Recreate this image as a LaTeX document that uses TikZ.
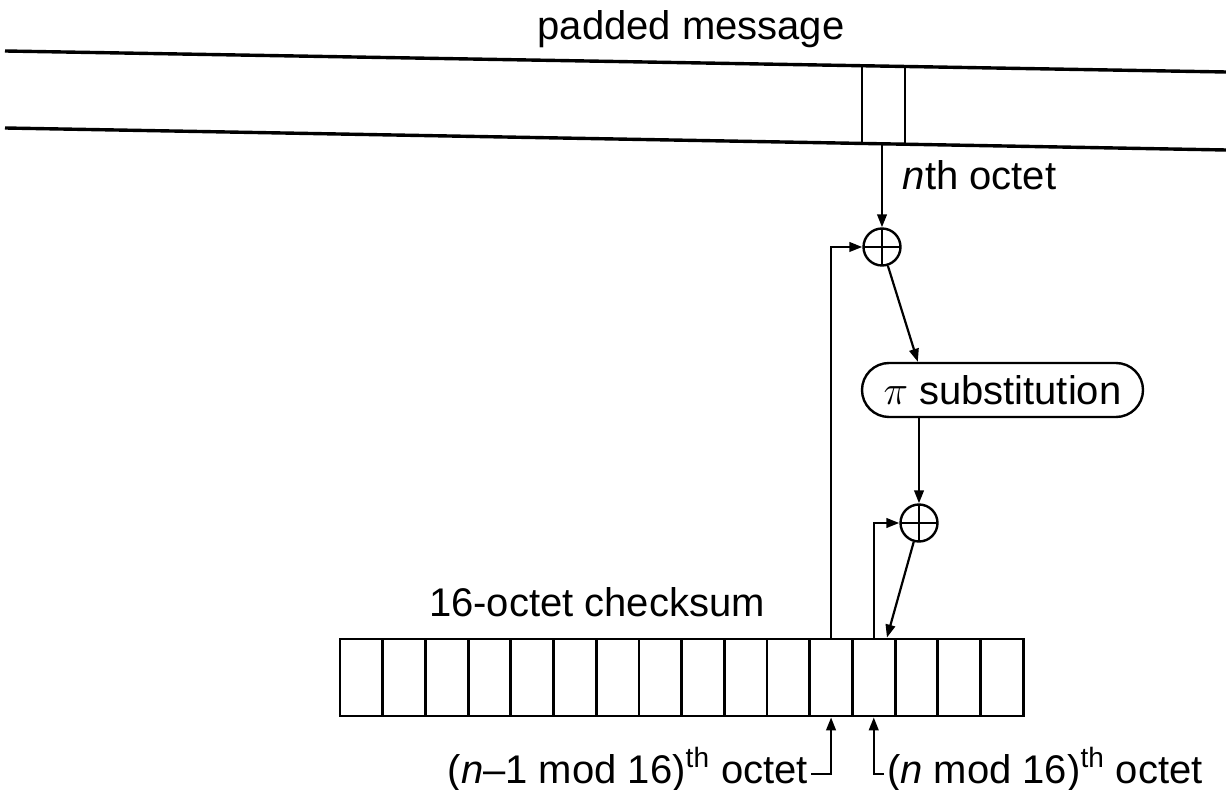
\documentclass[tikz,border=0pt]{standalone}
\usepackage{fontspec}
\setmainfont{Liberation Sans}
\usepackage{tikz}
\usetikzlibrary{positioning,arrows.meta}
\usepackage{amsmath}

\tikzset{
  xorgate/.style={circle, draw, line width=1.2pt, minimum size=18.5pt, inner sep=0pt,
    path picture={\draw[line width=1.2pt] (path picture bounding box.north) -- (path picture bounding box.south)
      (path picture bounding box.west) -- (path picture bounding box.east);}},
  cell/.style={rectangle, draw, line width=1.4pt, minimum width=21.35pt, minimum height=38.5pt, inner sep=0pt},
  lbl/.style={inner sep=1pt},
}

\begin{document}
\begin{tikzpicture}[x=0.5pt, y=-0.5pt, line width=1.1pt, >={Triangle[length=6.5pt,width=4.8pt]},
    every node/.style={font=\fontsize{20}{24}\selectfont}]
    \useasboundingbox (0,0) rectangle (1226,790);

    % Wiadomość

    \node[anchor=base] (title) at (691,40) {padded message};
    \draw[line width=1.7pt] (5,51) -- (1226,72);
    \draw[line width=1.7pt] (5,128) -- (1226,150);
    \node[draw, line width=0.9pt, minimum width=21.5pt, minimum height=39pt, inner sep=0pt] (octet) at (883.5,105) {};
    \node[anchor=base west] (nth) at (895,190) {\textit{n}th octet};

    % Sumatory

    \node[xorgate] (xor1) at (882,247) {};
    \node[draw, line width=1.2pt, rounded corners=13.5pt, minimum width=140.5pt, minimum height=27pt, inner sep=0pt] (pibox) at (1002.5,390) {$\pi$ substitution};
    \node[xorgate] (xor2) at (919,523) {};

    % Suma kontrolna

    \foreach \i in {1,...,16}
        \node[cell] (c\i) at ({340+42.7*(\i-0.5)},677.5) {};
    \node[anchor=base] (sumtitle) at (597,617) {16-octet checksum};
    \node[lbl, anchor=base east] (prev) at (811,783) {(\textit{n}–1 mod 16)\textsuperscript{th} octet};
    \node[lbl, anchor=base west] (curr) at (884,783) {(\textit{n} mod 16)\textsuperscript{th} octet};

    % Krawędzie

    \draw[->] (octet.south -| xor1) -- (xor1);
    \draw[->] (xor1) -- ([xshift=28.5pt]pibox.north west);
    \draw[->] (pibox.south -| xor2) -- (xor2);
    \draw[->] (xor2) -- ([xshift=6.6pt]c13.north);
    \draw[->] (c12.north) |- (xor1);
    \draw[->] (c13.north) |- (xor2);
    \draw[->] ([yshift=4.5pt]prev.base east) -| (c12.south);
    \draw[->] ([yshift=4.5pt]curr.base west) -| (c13.south);

\end{tikzpicture}
\end{document}
